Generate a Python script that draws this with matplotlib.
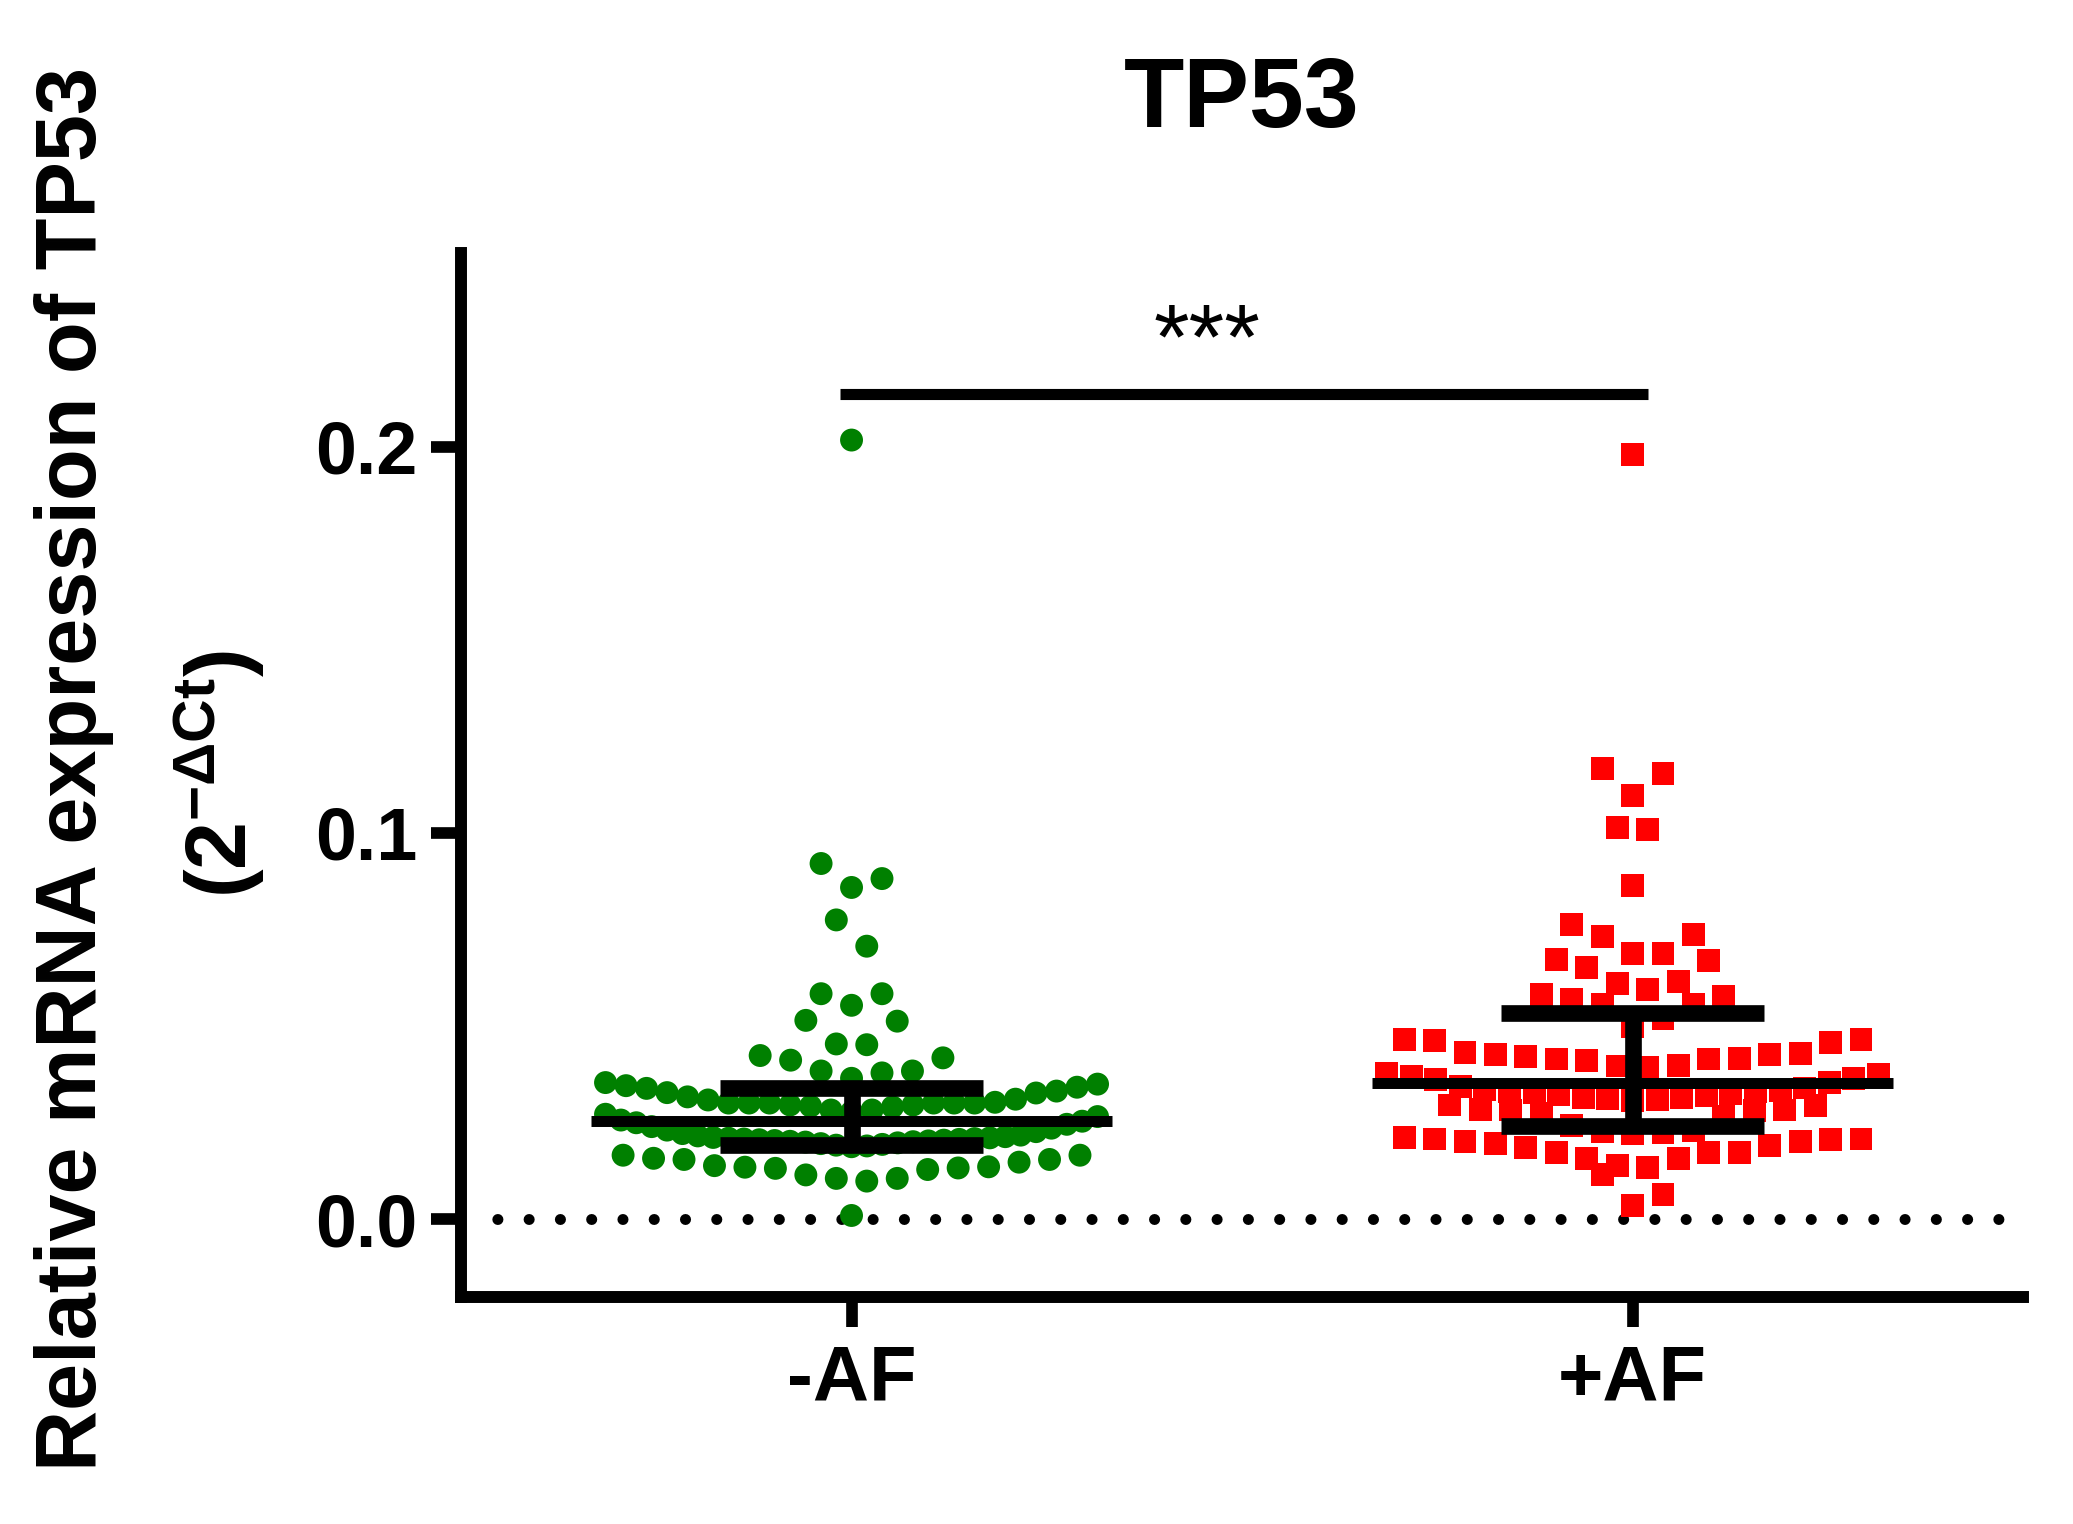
import numpy as np
import matplotlib
matplotlib.use("Agg")
import matplotlib.pyplot as plt

plt.rcParams['font.family'] = ['Liberation Sans', 'DejaVu Sans']
plt.rcParams['font.weight'] = 'bold'
plt.rcParams['mathtext.fontset'] = 'custom'
plt.rcParams['mathtext.rm'] = 'Liberation Sans:bold'
plt.rcParams['mathtext.it'] = 'Liberation Sans:bold'
plt.rcParams['mathtext.bf'] = 'Liberation Sans:bold'

# relative expression (2^-dCt)
neg_af = [0.0010,
          0.0099, 0.0106, 0.0106, 0.0115, 0.0129, 0.0132, 0.0133, 0.0135,
          0.0136, 0.0139, 0.0148, 0.0155, 0.0155, 0.0158, 0.0166, 0.0166,
          0.0188, 0.0190, 0.0192, 0.0194, 0.0196, 0.0198, 0.0200, 0.0201,
          0.0202, 0.0203, 0.0204, 0.0205, 0.0206, 0.0207, 0.0208, 0.0209,
          0.0210, 0.0211, 0.0212, 0.0214, 0.0216, 0.0218, 0.0222, 0.0227,
          0.0231, 0.0236, 0.0240, 0.0246, 0.0250, 0.0254, 0.0257, 0.0266,
          0.0272,
          0.0278, 0.0283, 0.0283, 0.0291, 0.0293, 0.0296, 0.0296, 0.0301,
          0.0301, 0.0301, 0.0301, 0.0301, 0.0301, 0.0303, 0.0309, 0.0311,
          0.0317, 0.0327, 0.0328, 0.0332, 0.0339, 0.0342, 0.0346, 0.0350,
          0.0354,
          0.0365, 0.0379, 0.0384, 0.0384, 0.0412, 0.0418, 0.0424,
          0.0452, 0.0454, 0.0513, 0.0515,
          0.0554, 0.0584, 0.0584,
          0.0707, 0.0775,
          0.0859, 0.0882, 0.0921,
          0.2017]
pos_af = [0.0035, 0.0065, 0.0116,
          0.0135, 0.0140, 0.0158, 0.0158, 0.0173, 0.0173, 0.0173, 0.0186,
          0.0192, 0.0197, 0.0202, 0.0202, 0.0207, 0.0208, 0.0208, 0.0212,
          0.0222, 0.0224, 0.0228, 0.0231, 0.0243, 0.0266, 0.0274, 0.0281,
          0.0283, 0.0283, 0.0285, 0.0295, 0.0296,
          0.0308, 0.0310, 0.0312, 0.0314, 0.0316, 0.0320, 0.0323, 0.0326,
          0.0328, 0.0330, 0.0332, 0.0334, 0.0336, 0.0340, 0.0345, 0.0355,
          0.0361, 0.0365, 0.0369, 0.0376, 0.0378,
          0.0394, 0.0397, 0.0399, 0.0412, 0.0415, 0.0415, 0.0417, 0.0422,
          0.0427, 0.0427, 0.0430, 0.0432, 0.0458, 0.0464, 0.0466, 0.0466,
          0.0500, 0.0520, 0.0555, 0.0555, 0.0568, 0.0576, 0.0581,
          0.0595, 0.0611, 0.0616, 0.0653, 0.0670, 0.0673,
          0.0689, 0.0689, 0.0733, 0.0738, 0.0764,
          0.0865,
          0.1010, 0.1015,
          0.1096, 0.1153, 0.1167,
          0.1980]

groups = ["-AF", "+AF"]
# centre line and error bar ends as drawn
centers = [0.0254, 0.0353]
lows = [0.0192, 0.0242]
highs = [0.0341, 0.0533]
colors = ["#008000", "#ff0000"]
markers = ["o", "s"]
sig_y = 0.2137


def swarm(vals, center, row_h=0.0085, step=0.039, half_max=0.315):
    # prism-like rows: values close together sit side by side,
    # lowest in the middle, going outwards right/left
    vals = np.asarray(vals, float)
    order = np.argsort(vals, kind="stable")
    xs = np.zeros(len(vals))
    i = 0
    while i < len(order):
        j = i
        while j < len(order) and vals[order[j]] < vals[order[i]] + row_h:
            j += 1
        m = j - i
        d = step
        if m > 1 and (m - 1) * step / 2 > half_max:
            d = 2 * half_max / (m - 1)
        if m % 2:
            slots = [0] + [s * k for k in range(1, m // 2 + 1) for s in (1, -1)]
        else:
            slots = [s * (k + 0.5) for k in range(m // 2) for s in (1, -1)]
        xs[order[i:j]] = center + d * np.array(slots[:m])
        i = j
    return xs


fig = plt.figure(figsize=(20.73, 15.24), dpi=100)
ax = fig.add_axes([0.2224, 0.1492, 0.7535, 0.6845])

ax.axhline(0, xmin=0.017, xmax=1, color='black', lw=7.9,
           linestyle=(2.0, (0.01, 2.84)), dash_capstyle='round', zorder=1)

for i, vals in enumerate([neg_af, pos_af]):
    xs = swarm(vals, i)
    ax.scatter(xs, vals, s=16.5 ** 2, marker=markers[i], color=colors[i],
               edgecolors='none', zorder=2)
    ax.hlines(centers[i], i - 0.334, i + 0.334, color='black', lw=7.9, zorder=3)
    ax.hlines([lows[i], highs[i]], i - 0.168, i + 0.168, color='black', lw=12, zorder=3)
    ax.vlines(i, lows[i], highs[i], color='black', lw=12, zorder=3)

ax.plot([-0.015, 1.02], [sig_y, sig_y], color='black', lw=8, solid_capstyle='butt')
ax.text(0.455, sig_y + 0.0066, '***', ha='center', va='baseline',
        fontsize=66, fontweight='normal')

ax.set_xlim(-0.5, 1.5)
ax.set_ylim(-0.02, 0.25)
ax.set_xticks([0, 1])
ax.set_xticklabels(groups)
ax.set_yticks([0, 0.1, 0.2])
ax.set_yticklabels(['0.0', '0.1', '0.2'])
ax.tick_params(axis='both', width=8.4, length=21.5, color='black')
ax.tick_params(axis='y', pad=10, labelsize=53)
ax.tick_params(axis='x', pad=12, labelsize=56)
for side in ['top', 'right']:
    ax.spines[side].set_visible(False)
for side in ['left', 'bottom']:
    ax.spines[side].set_linewidth(8.6)
    ax.spines[side].set_capstyle('projecting')

fig.text(0.599, 0.9167, 'TP53', ha='center', va='baseline', fontsize=71,
         fontweight='bold')
fig.text(0.0357, 0.4954, 'Relative mRNA expression of TP53', rotation=90,
         ha='center', va='center', fontsize=61, fontweight='bold')
fig.text(0.1056, 0.492, r'$(2^{-\Delta Ct})$', rotation=90,
         ha='center', va='center', fontsize=62)

fig.savefig('out.png', dpi=100)
